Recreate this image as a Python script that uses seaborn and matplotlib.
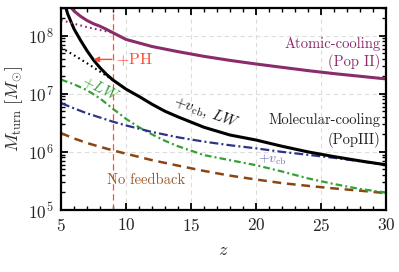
import matplotlib
matplotlib.use("Agg")
import matplotlib.pyplot as plt
import seaborn as sns
import numpy as np
import pandas as pd
from matplotlib.ticker import MultipleLocator, LogLocator

# ---------------- data ----------------
z_atom = [5.0, 5.5, 6, 6.5, 7, 7.5, 8, 8.5, 9, 10, 12, 14, 16, 18, 20, 22, 24, 26, 28, 30]
m_atom = [5.5e8, 3.6e8, 2.65e8, 2.15e8, 1.82e8, 1.6e8, 1.45e8, 1.28e8, 1.12e8, 8.6e7,
          6.5e7, 5.3e7, 4.4e7, 3.75e7, 3.25e7, 2.85e7, 2.5e7, 2.22e7, 2.0e7, 1.8e7]

z_atom_noph = [5, 6, 7, 8, 9]
m_atom_noph = [1.85e8, 1.6e8, 1.4e8, 1.25e8, 1.12e8]

z_mol = [5, 5.5, 6, 6.5, 7, 7.5, 8, 8.5, 9, 10, 11, 12, 13, 14, 16, 18, 20, 22, 24, 26, 28, 30]
m_mol = [6.0e8, 2.4e8, 1.3e8, 8.3e7, 5.5e7, 3.8e7, 2.8e7, 2.15e7, 1.72e7, 1.2e7, 9.0e6,
         6.6e6, 5.0e6, 4.0e6, 2.65e6, 1.95e6, 1.6e6, 1.25e6, 1.0e6, 8.3e5, 7.0e5, 6.0e5]

z_mol_noph = [5, 6, 7, 8, 9]
m_mol_noph = [6.2e7, 4.6e7, 3.35e7, 2.4e7, 1.72e7]

z_vcb = [5, 6, 7, 8, 9, 10, 12, 14, 16, 18, 20, 22, 24, 26, 28, 30]
m_vcb = [6.9e6, 5.6e6, 4.6e6, 3.9e6, 3.3e6, 2.85e6, 2.2e6, 1.78e6, 1.5e6, 1.3e6,
         1.15e6, 1.0e6, 8.9e5, 7.9e5, 6.9e5, 6.0e5]

z_lw = [5, 6, 7, 8, 9, 10, 11, 12, 13, 14, 16, 18, 20, 22, 24, 26, 28, 30]
m_lw = [1.75e7, 1.45e7, 1.15e7, 8.3e6, 5.5e6, 3.7e6, 2.65e6, 2.0e6, 1.55e6, 1.25e6,
        8.8e5, 7.2e5, 5.9e5, 4.6e5, 3.5e5, 2.8e5, 2.3e5, 2.0e5]

z_nofb = [5, 6, 7, 8, 9, 10, 12, 14, 16, 18, 20, 22, 24, 26, 28, 30]
m_nofb = [2.1e6, 1.7e6, 1.42e6, 1.22e6, 1.06e6, 9.3e5, 7.2e5, 5.8e5, 4.7e5, 3.9e5,
          3.35e5, 2.9e5, 2.6e5, 2.35e5, 2.15e5, 1.95e5]

z_ph = 9.0
x_ticks = [5, 10, 15, 20, 25, 30]

# ---------------- style ----------------
sns.set_style("ticks")
plt.rcParams["font.family"] = ["serif"]
plt.rcParams["font.serif"] = ["cmr10", "DejaVu Serif"]
plt.rcParams["mathtext.fontset"] = "cm"
plt.rcParams["axes.formatter.use_mathtext"] = True
plt.rcParams["axes.unicode_minus"] = False

PURPLE = "#8A2B6C"
BLACK = "black"
NAVY = "#2C3585"
GREEN = "#35A035"
BROWN = "#8B4513"
RED = "#FF4A35"

fig = plt.figure(figsize=(3.99, 2.72), dpi=100)
ax = fig.add_axes([0.153, 0.228, 0.814, 0.743])

def line(z, m, **kw):
    df = pd.DataFrame({"z": z, "M": m})
    sns.lineplot(data=df, x="z", y="M", ax=ax, sort=True, estimator=None, **kw)

line(z_nofb, m_nofb, color=BROWN, lw=1.8, linestyle=(0, (3.5, 2.3)))
line(z_lw, m_lw, color=GREEN, lw=1.6, linestyle=(0, (3, 1.4, 0.9, 1.4)))
line(z_vcb, m_vcb, color=NAVY, lw=1.6, linestyle=(0, (4, 1.4, 0.9, 1.4)))
line(z_mol_noph, m_mol_noph, color=BLACK, lw=1.5, linestyle=(0, (0.8, 1.6)))
line(z_mol, m_mol, color=BLACK, lw=2.2, linestyle="-")
line(z_atom_noph, m_atom_noph, color=PURPLE, lw=1.5, linestyle=(0, (0.8, 1.6)))
line(z_atom, m_atom, color=PURPLE, lw=2.2, linestyle="-")

ax.axvline(z_ph, color=RED, lw=0.9, linestyle=(0, (5, 3)), zorder=1)

ax.set_yscale("log")
ax.set_xlim(5, 30)
ax.set_ylim(1e5, 3e8)
ax.set_xticks(x_ticks)
ax.xaxis.set_minor_locator(MultipleLocator(1))
ax.yaxis.set_minor_locator(LogLocator(base=10, subs=np.arange(2, 10)))

ax.grid(True, which="major", color="#DDDDDD", lw=0.8, linestyle=(0, (4, 3)))
ax.set_axisbelow(True)

for s in ax.spines.values():
    s.set_linewidth(1.6)
    s.set_color("black")
ax.tick_params(which="both", direction="in", top=True, right=True, color="black")
ax.tick_params(which="major", length=5, width=1.3, labelsize=12.5, pad=5)
ax.tick_params(which="minor", length=3, width=1.0)

ax.set_xlabel(r"$z$", fontsize=13, labelpad=6)
ax.set_ylabel(r"$M_{\rm turn}\ [M_{\odot}]$", fontsize=13, labelpad=2)

# annotations
ax.annotate("", xy=(7.5, 3.9e7), xytext=(8.9, 3.9e7),
            arrowprops=dict(arrowstyle="-|>", color=RED, lw=1.0, mutation_scale=8,
                            shrinkA=0, shrinkB=0))
ax.text(9.25, 3.9e7, r"$+$PH", color=RED, fontsize=11.5, ha="left", va="center")

ax.text(29.6, 7.3e7, "Atomic-cooling", color=PURPLE, fontsize=10.5, ha="right", va="center")
ax.text(29.6, 3.45e7, "(Pop II)", color=PURPLE, fontsize=10.5, ha="right", va="center")
ax.text(29.6, 3.5e6, "Molecular-cooling", color="#222222", fontsize=10.5, ha="right", va="center")
ax.text(29.6, 1.6e6, "(PopIII)", color="#222222", fontsize=10.5, ha="right", va="center")
ax.text(8.5, 3.2e5, "No feedback", color="#9A5A2A", fontsize=10.5, ha="left", va="center")

ax.text(8.05, 1.2e7, r"$+LW$", color=GREEN, fontsize=11, ha="center", va="center", rotation=-27)
ax.text(16.2, 4.8e6, r"$+v_{\rm cb},\,LW$", color="#111111", fontsize=11,
        ha="center", va="center", rotation=-20)
ax.text(21.3, 7.3e5, r"$+v_{\rm cb}$", color="#6A70B0", fontsize=10, ha="center", va="center")

fig.savefig("out.png", dpi=100)
